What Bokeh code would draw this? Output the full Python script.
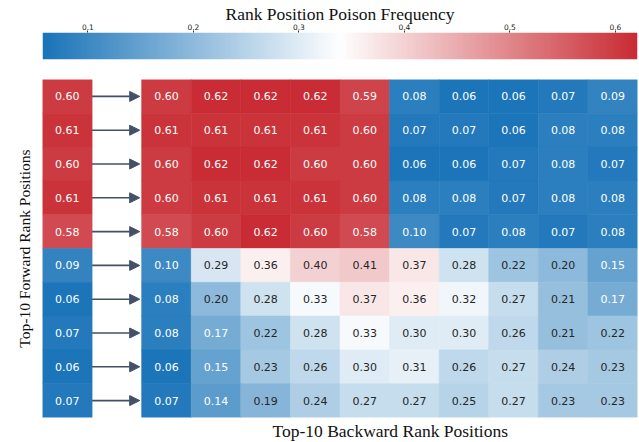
import numpy as np
from bokeh.plotting import figure
from bokeh.layouts import column
from bokeh.models import (ColumnDataSource, LinearColorMapper, Range1d, FixedTicker,
                          Arrow, NormalHead, Title)
from bokeh.transform import transform
from bokeh.core.properties import value
from bokeh.embed import file_html
from bokeh.resources import INLINE

# ---------------- data ----------------
forward_vals = [0.60, 0.61, 0.60, 0.61, 0.58, 0.09, 0.06, 0.07, 0.06, 0.07]
backward_row0 = [0.60, 0.62, 0.62, 0.62, 0.59, 0.08, 0.06, 0.06, 0.07, 0.09]
backward_row1 = [0.61, 0.61, 0.61, 0.61, 0.60, 0.07, 0.07, 0.06, 0.08, 0.08]
backward_row2 = [0.60, 0.62, 0.62, 0.60, 0.60, 0.06, 0.06, 0.07, 0.08, 0.07]
backward_row3 = [0.60, 0.61, 0.61, 0.61, 0.60, 0.08, 0.08, 0.07, 0.08, 0.08]
backward_row4 = [0.58, 0.60, 0.62, 0.60, 0.58, 0.10, 0.07, 0.08, 0.07, 0.08]
backward_row5 = [0.10, 0.29, 0.36, 0.40, 0.41, 0.37, 0.28, 0.22, 0.20, 0.15]
backward_row6 = [0.08, 0.20, 0.28, 0.33, 0.37, 0.36, 0.32, 0.27, 0.21, 0.17]
backward_row7 = [0.08, 0.17, 0.22, 0.28, 0.33, 0.30, 0.30, 0.26, 0.21, 0.22]
backward_row8 = [0.06, 0.15, 0.23, 0.26, 0.30, 0.31, 0.26, 0.27, 0.24, 0.23]
backward_row9 = [0.07, 0.14, 0.19, 0.24, 0.27, 0.27, 0.25, 0.27, 0.23, 0.23]
backward_rows = [backward_row0, backward_row1, backward_row2, backward_row3, backward_row4,
                 backward_row5, backward_row6, backward_row7, backward_row8, backward_row9]
cbar_ticks = [0.1, 0.2, 0.3, 0.4, 0.5, 0.6]
vmin, vmax = 0.057, 0.621

# ---------------- colormap ----------------
lo, mid, hi = (26, 116, 184), (255, 255, 255), (201, 44, 52)
palette = []
for i in range(256):
    t = i / 255
    if t < 0.5:
        a, b, f = lo, mid, t / 0.5
    else:
        a, b, f = mid, hi, (t - 0.5) / 0.5
    palette.append('#%02x%02x%02x' % tuple(int(round(a[k] + (b[k] - a[k]) * f)) for k in range(3)))
mapper = LinearColorMapper(palette=palette, low=vmin, high=vmax)

SERIF = "Liberation Serif"
SANS = "DejaVu Sans"

# ---------------- colorbar figure ----------------
cb = figure(width=639, height=68, x_range=Range1d(vmin, vmax), y_range=Range1d(0, 1),
            output_backend="svg", toolbar_location=None, x_axis_location="above",
            y_axis_location=None, min_border_left=42, min_border_right=2,
            min_border_top=0, min_border_bottom=9)
cb.image(image=[np.linspace(vmin, vmax, 600).reshape(1, -1)], x=vmin, y=0,
         dw=vmax - vmin, dh=1, color_mapper=mapper)
cb.grid.visible = False
cb.outline_line_color = None
ax = cb.xaxis[0]
ax.ticker = FixedTicker(ticks=cbar_ticks)
ax.axis_label = "Rank Position Poison Frequency"
ax.axis_label_text_font = SERIF
ax.axis_label_text_font_style = "normal"
ax.axis_label_text_font_size = "17.5px"
ax.axis_label_text_color = "#111111"
ax.axis_label_standoff = -3
ax.major_label_text_font = SANS
ax.major_label_text_font_size = "7.5px"
ax.major_label_text_color = "#222222"
ax.major_label_standoff = 1
ax.major_tick_out = 2
ax.major_tick_in = 0
ax.minor_tick_out = 0
ax.minor_tick_in = 0
ax.axis_line_color = None
ax.major_tick_line_color = "#333333"

# ---------------- heatmap figure ----------------
xs, ys, vs, labels, tcs = [], [], [], [], []


def text_col(v):
    return "#ffffff" if (v < 0.18 or v > 0.45) else "#262626"


for r in range(10):
    v = forward_vals[r]
    xs.append(-1.5); ys.append(9.5 - r); vs.append(v)
    labels.append("%.2f" % v); tcs.append(text_col(v))
    for c in range(10):
        v = backward_rows[r][c]
        xs.append(c + 0.5); ys.append(9.5 - r); vs.append(v)
        labels.append("%.2f" % v); tcs.append(text_col(v))

src = ColumnDataSource(dict(x=xs, y=ys, v=vs, label=labels, tc=tcs))

p = figure(width=639, height=374, x_range=Range1d(-2, 10), y_range=Range1d(0, 10),
           output_backend="svg", toolbar_location=None, x_axis_location=None,
           min_border_left=42, min_border_right=2, min_border_top=11, min_border_bottom=25)
p.grid.visible = False
p.outline_line_color = None

p.rect(x="x", y="y", width=1, height=1, source=src,
       fill_color=transform("v", mapper), line_color=transform("v", mapper), line_width=0.6)
p.text(x="x", y="y", text="label", source=src, text_align="center", text_baseline="middle",
       text_font=value(SANS), text_font_size="11px", text_color="tc")

arrow_color = "#425068"
arrow_src = ColumnDataSource(dict(x0=[-1.0] * 10, x1=[-0.04] * 10,
                                  y=[9.5 - r for r in range(10)]))
p.add_layout(Arrow(end=NormalHead(size=10, fill_color=arrow_color, line_color=arrow_color),
                   x_start="x0", y_start="y", x_end="x1", y_end="y", source=arrow_src,
                   line_color=arrow_color, line_width=1.6))

yax = p.yaxis[0]
yax.ticker = FixedTicker(ticks=[])
yax.axis_label = "Top-10 Forward Rank Positions"
yax.axis_label_text_font = SERIF
yax.axis_label_text_font_style = "normal"
yax.axis_label_text_font_size = "15.5px"
yax.axis_label_text_color = "#111111"
yax.axis_label_standoff = 10
yax.major_label_standoff = 0
yax.major_tick_out = 0
yax.major_tick_in = 0
yax.minor_tick_out = 0
yax.minor_tick_in = 0
yax.axis_line_color = None

p.add_layout(Title(text="Top-10 Backward Rank Positions", align="left", offset=230,
                   standoff=2, text_font=SERIF, text_font_style="normal",
                   text_font_size="17.5px", text_color="#111111"), "below")

layout = column(cb, p)
open("out.html", "w").write(file_html(layout, INLINE))
